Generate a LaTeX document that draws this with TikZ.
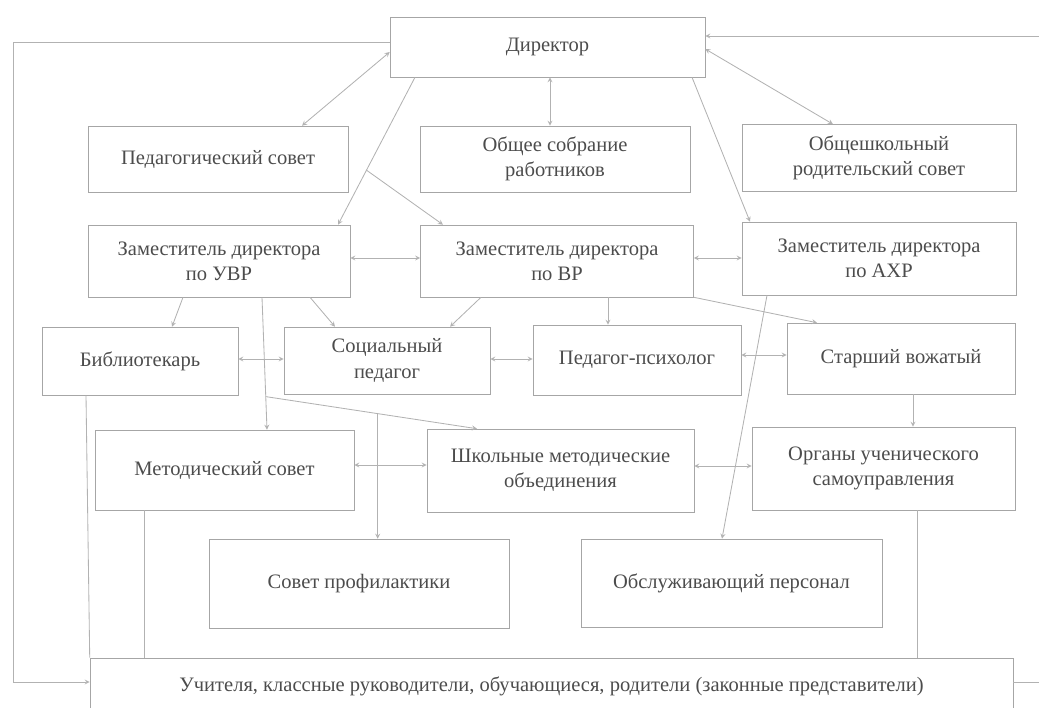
\documentclass[tikz,border=0pt]{standalone}
\usepackage{fontspec}
\setmainfont{Liberation Serif}

\begin{document}
\begin{tikzpicture}
[x=0.025cm,y=-0.025cm,>=stealth,
every node/.style={draw=black!35,text=black!70,align=center,font=\fontsize{14.6}{18}\selectfont},
sz/.style 2 args={minimum width=#1*0.025cm,minimum height=#2*0.025cm},
conn/.style={draw=black!30,line width=0.6pt}]
\clip (0,0) rectangle (1039,708);
% top
\node[sz={315}{60}] (dir) at (547.5,47) {Директор};
\node[sz={260}{66}] (ps) at (218,159) {Педагогический совет};
\node[sz={270}{66}] (osr) at (555,159) {Общее собрание\\работников};
\node[sz={274}{67}] (ors) at (879,158) {Общешкольный\\родительский совет};
% deputies
\node[sz={262}{72}] (zuvr) at (219,261) {Заместитель директора\\по УВР};
\node[sz={273}{72}] (zvr) at (557,261) {Заместитель директора\\по ВР};
\node[sz={274}{73}] (zahr) at (879,258.5) {Заместитель директора\\по АХР};
% specialists
\node[sz={196}{68}] (bib) at (140,361) {Библиотекарь};
\node[sz={206}{67}] (soc) at (387,360.5) {Социальный\\педагог};
\node[sz={208}{70}] (psy) at (637,360) {Педагог-психолог};
\node[sz={228}{71}] (vozh) at (901,358.5) {Старший вожатый};
\node[sz={259}{80}] (ms) at (224.5,470) {Методический совет};
\node[sz={267}{83}] (shmo) at (560.5,470.5) {Школьные методические\\объединения};
\node[sz={263}{83}] (org) at (883.5,468.5) {Органы ученического\\самоуправления};
\node[sz={300}{89}] (sp) at (359,583.5) {Совет профилактики};
\node[sz={301}{88}] (obs) at (731.5,583) {Обслуживающий персонал};
\node[sz={923}{56}] (uch) at (551.5,686) {Учителя, классные руководители, обучающиеся, родители (законные представители)};

% director links
\draw[conn,<->] (dir.west |- 0,52) -- (ps.north -| 302,0);
\draw[conn,<->] (dir.south -| 550,0) -- (osr.north -| 550,0);
\draw[conn,<->] (dir.east |- 0,49) -- (ors.north -| 833,0);
\draw[conn,->] (dir.south -| 415,0) -- coordinate[pos=0.63] (br1) (zuvr.north -| 338,0);
\draw[conn,->] (br1) -- (zvr.north -| 443,0);
\draw[conn,->] (dir.south -| 692,0) -- (zahr.north -| 750,0);
\draw[conn,->] (dir.west |- 0,42) -- (13,42) |- (uch.west |- 0,682);
\draw[conn,->] (uch.east |- 0,682) -- (1060,682) |- (dir.east |- 0,36);

% side by side
\foreach \a/\b/\y in {zuvr/zvr/258,zvr/zahr/258,bib/soc/359,soc/psy/359,psy/vozh/355,ms/shmo/465,shmo/org/466}
\draw[conn,<->] (\a.east |- 0,\y) -- (\b.west |- 0,\y);

% down links
\draw[conn,->] (zuvr.south -| 183,0) -- (bib.north -| 172,0);
\draw[conn,->] (zuvr.south -| 310,0) -- (soc.north -| 335,0);
\draw[conn,->] (zvr.south -| 481,0) -- (soc.north -| 450,0);
\draw[conn,->] (zvr.south -| 608,0) -- (psy.north -| 608,0);
\draw[conn,->] (zvr.south east) -- (vozh.north -| 817,0);
\draw[conn,->] (vozh.south -| 913,0) -- (org.north -| 913,0);
\draw[conn,->] (zahr.south -| 767,0) -- (obs.north -| 722,0);
\draw[conn,->] (zuvr.south -| 262,0) -- coordinate[pos=0.75] (br2) (ms.north -| 267,0);
\draw[conn,->] (br2) -- coordinate[pos=0.53] (br3) (shmo.north -| 477,0);
\draw[conn,->] (br3) -- (br3 |- sp.north);

% to the bottom box
\draw[conn] (bib.south -| 86,0) -- (uch.north west);
\draw[conn] (ms.south -| 144,0) -- (uch.north -| 144,0);
\draw[conn] (org.south -| 917,0) -- (uch.north -| 917,0);
\end{tikzpicture}
\end{document}
